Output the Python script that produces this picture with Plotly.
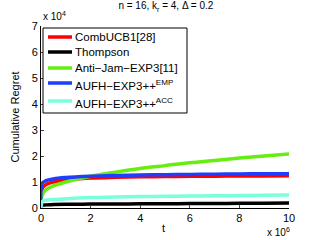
import plotly.graph_objects as go

t = [0, 0.05, 0.2, 0.5, 1, 2, 3, 4, 5, 6, 7, 8, 9, 10]  # x 10^6
comb = [0, 0.75, 0.9, 1.0, 1.08, 1.15, 1.18, 1.2, 1.21, 1.22, 1.225, 1.23, 1.235, 1.24]
thompson = [0, 0.1, 0.12, 0.13, 0.14, 0.15, 0.155, 0.16, 0.165, 0.17, 0.175, 0.18, 0.185, 0.19]
antijam = [0, 0.5, 0.7, 0.85, 1.0, 1.22, 1.38, 1.52, 1.63, 1.74, 1.83, 1.92, 2.0, 2.08]
aufh_emp = [0, 0.95, 1.05, 1.12, 1.17, 1.22, 1.25, 1.27, 1.28, 1.29, 1.3, 1.31, 1.315, 1.32]
aufh_acc = [0, 0.25, 0.3, 0.33, 0.36, 0.4, 0.42, 0.44, 0.45, 0.46, 0.47, 0.48, 0.49, 0.5]

names = ["CombUCB1[28]", "Thompson", "Anti−Jam−EXP3[11]",
         "AUFH−EXP3++<sup>EMP</sup>", "AUFH−EXP3++<sup>ACC</sup>"]
series = [comb, thompson, antijam, aufh_emp, aufh_acc]
colors = ["#ff0000", "#000000", "#66ee11", "#1f3cff", "#78ffdc"]

# plot area in pixels: x 41..289, y 26..208
L, R, T, B = 41, 289, 26, 208
W, H = R - L, B - T
def px(x): return (x - L) / W
def py(y): return (B - y) / H

fig = go.Figure()
for n, s, c in zip(names, series, colors):
    fig.add_trace(go.Scatter(x=t, y=s, mode="lines", name=n, showlegend=False,
                             line=dict(color=c, width=3.5, shape="spline")))

shapes = [dict(type="rect", xref="paper", yref="paper",
               x0=px(43), x1=px(187), y0=py(113), y1=py(28),
               line=dict(color="black", width=1), fillcolor="white", layer="above")]
annotations = []
entry_y = [37, 52, 68, 83, 101]
for n, c, ey in zip(names, colors, entry_y):
    shapes.append(dict(type="line", xref="paper", yref="paper",
                       x0=px(48), x1=px(72), y0=py(ey), y1=py(ey),
                       line=dict(color=c, width=3.5), layer="above"))
    annotations.append(dict(text=n, x=px(73), y=py(ey + (2 if "sup" in n else 0)),
                            xref="paper", yref="paper", xanchor="left", yanchor="middle",
                            showarrow=False, font=dict(size=11.5)))

annotations += [
    dict(text="x 10<sup>4</sup>", x=px(41), y=py(24), xref="paper", yref="paper",
         xanchor="left", yanchor="bottom", showarrow=False, font=dict(size=10)),
    dict(text="x 10<sup>6</sup>", x=px(292), y=py(240), xref="paper", yref="paper",
         xanchor="right", yanchor="bottom", showarrow=False, font=dict(size=10)),
    dict(text="t", x=px(163), y=py(228), xref="paper", yref="paper",
         xanchor="center", yanchor="middle", showarrow=False, font=dict(size=11)),
]

fig.update_layout(
    width=319, height=240,
    margin=dict(l=L, r=319 - R, t=T, b=240 - B, autoexpand=False),
    paper_bgcolor="white", plot_bgcolor="white",
    font=dict(family="Liberation Sans, Arial", size=11, color="black"),
    showlegend=False,
    title=dict(text="n = 16, k<sub>r</sub> = 4, Δ = 0.2", x=0.52, xanchor="center",
               y=0.99, yanchor="top", font=dict(size=10)),
    xaxis=dict(range=[0, 10], tickvals=[0, 2, 4, 6, 8, 10], ticks="inside",
               ticklen=3, showline=True, linecolor="black", linewidth=1,
               showgrid=False, zeroline=False, tickfont=dict(size=11), automargin=False),
    yaxis=dict(range=[0, 7], tickvals=list(range(8)), ticks="inside",
               ticklen=3, showline=True, linecolor="black", linewidth=1,
               showgrid=False, zeroline=False, tickfont=dict(size=11), automargin=False,
               title=dict(text="Cumulative Regret", font=dict(size=11), standoff=9)),
    shapes=shapes,
    annotations=annotations,
)
fig.write_html("out.html", config={"displayModeBar": False},
               post_script="document.body.style.margin='0';document.body.style.overflow='hidden';")
